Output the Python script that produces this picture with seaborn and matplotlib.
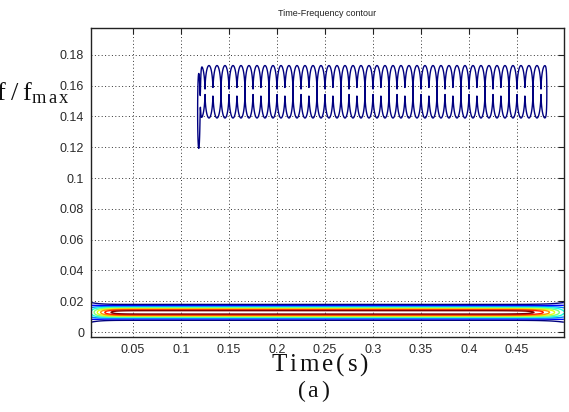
import numpy as np
import matplotlib
matplotlib.use("Agg")
import matplotlib.pyplot as plt
import seaborn as sns

# ---- chart data -------------------------------------------------------
x_ticks = [0.05, 0.10, 0.15, 0.20, 0.25, 0.30, 0.35, 0.40, 0.45]
x_tick_labels = ["0.05", "0.1", "0.15", "0.2", "0.25", "0.3", "0.35", "0.4", "0.45"]
y_ticks = [0.0, 0.02, 0.04, 0.06, 0.08, 0.10, 0.12, 0.14, 0.16, 0.18]
y_tick_labels = ["0", "0.02", "0.04", "0.06", "0.08", "0.1", "0.12", "0.14", "0.16", "0.18"]

time_range = [0.00625, 0.499]          # seconds
freq_range = [-0.0032, 0.1974]         # f / f_max

# spectral components: fundamental (strong) and upper ridge (weak, beating)
component_freq = [0.0128, 0.156]
component_width = [0.0024, 0.0189]
component_amp = [1.0, 0.15]
ridge_floor = 0.0995                   # ridge amplitude at beat minima
ridge_start = 0.1205
ridge_stop = 0.4815
beat_rate = 120.0                      # Hz, envelope |sin(2*pi*60*t)|
transient = [0.1185, 0.1435, 0.16]     # time, freq, amplitude of onset burst
contour_levels = [0.1, 0.2, 0.3, 0.4, 0.5, 0.6, 0.7, 0.8, 0.9]

# ---- time-frequency surface ------------------------------------------
t = np.arange(time_range[0], time_range[1] + 1e-9, 0.0002)
f = np.arange(freq_range[0], freq_range[1] + 1e-9, 0.0004)
T, F = np.meshgrid(t, f)

edge = np.exp(-(T - time_range[0]) / 0.008) + np.exp(-(time_range[1] - T) / 0.012)
amp1 = component_amp[0] / (1.0 + 1.5 * edge)
sig1 = component_width[0] * (1.0 + 0.6 * edge)
Z = amp1 * np.exp(-(F - component_freq[0]) ** 2 / (2 * sig1 ** 2))

gate = 1 / (1 + np.exp(-(T - ridge_start) / 0.0004)) * 1 / (1 + np.exp((T - ridge_stop) / 0.0004))
env = ridge_floor + (component_amp[1] - ridge_floor) * np.abs(np.sin(np.pi * beat_rate * T))
Z += gate * env * np.exp(-(F - component_freq[1]) ** 2 / (2 * component_width[1] ** 2))
Z += transient[2] * np.exp(-(T - transient[0]) ** 2 / (2 * 0.0012 ** 2)
                           - (F - transient[1]) ** 2 / (2 * 0.025 ** 2))

# ---- figure -----------------------------------------------------------
sns.set_theme(style="white")
plt.rcParams["font.family"] = ["Liberation Sans", "DejaVu Sans"]
plt.rcParams["mathtext.fontset"] = "custom"
plt.rcParams["mathtext.rm"] = "Liberation Serif"
plt.rcParams["mathtext.it"] = "Liberation Serif:italic"

fig = plt.figure(figsize=(5.69, 4.12), dpi=100)
fig.patch.set_facecolor("white")
ax = fig.add_axes([91 / 569, 75 / 412, (564 - 91) / 569, (337 - 28) / 412])

# jet colours spread from the lowest to the highest contour level
jet = plt.get_cmap("jet")
colors = [jet(v) for v in np.linspace(0, 1, len(contour_levels))]
sns.set_palette(colors)
ax.contour(T, F, Z, levels=contour_levels, colors=sns.color_palette(), linewidths=1.0)

ax.set_xlim(*time_range)
ax.set_ylim(*freq_range)
ax.set_xticks(x_ticks)
ax.set_xticklabels(x_tick_labels)
ax.set_yticks(y_ticks)
ax.set_yticklabels(y_tick_labels)
ax.tick_params(direction="in", length=4, width=0.8, top=True, right=True,
               labelsize=9, labelcolor="#2a2a2a", color="#222222", pad=5)
for s in ax.spines.values():
    s.set_visible(True)
    s.set_color("#222222")
    s.set_linewidth(1.0)
ax.grid(True, color="#333333", linestyle=(0, (1, 2.5)), linewidth=0.7)
ax.set_facecolor("white")

ax.set_title("Time-Frequency contour", fontsize=6.5, color="#222222", pad=9)

# loosely spaced serif captions
fig.text(320 / 569, 1 - 365 / 412, r"$\mathrm{T\,i\,m\,e\,(\,s\,)}$",
         fontsize=18, ha="center", va="center", color="#111111")
fig.text(313 / 569, 1 - 391 / 412, r"$\mathrm{(\,a\,)}$",
         fontsize=17, ha="center", va="center", color="#111111")
fig.text(70 / 569, 1 - 93 / 412, r"$\mathrm{f\;/\;f_{m\,a\,x}}$", fontsize=19,
         ha="right", va="center", color="#111111")

fig.savefig("out.png", dpi=100)
